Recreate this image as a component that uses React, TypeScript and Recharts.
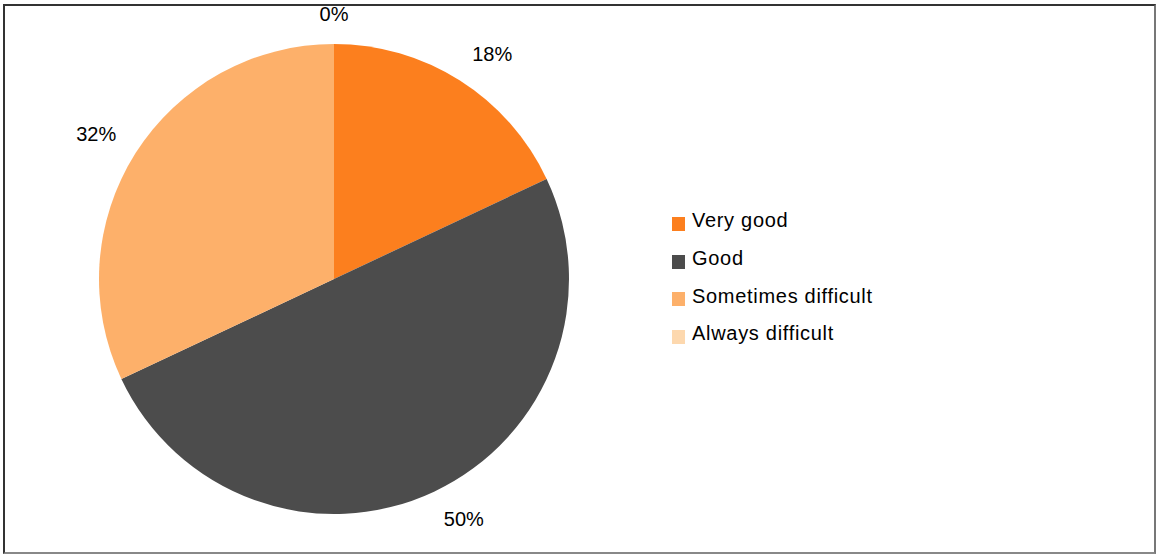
import { PieChart, Pie, Cell, Legend } from 'recharts'

const categories = ['Very good', 'Good', 'Sometimes difficult', 'Always difficult']
const shares = [18, 50, 32, 0]
const colors = ['#FC7F1E', '#4C4C4C', '#FDB06A', '#FDD8AE']

const data = categories.map((name, i) => ({ name, value: shares[i] }))

const RAD = Math.PI / 180
const FONT = "'Liberation Sans', Arial, sans-serif"

// label box hangs off a point just outside the rim, on the side facing away from the pie
const renderLabel = (props: any) => {
  const { cx, cy, midAngle, outerRadius, value } = props
  const cos = Math.cos(-midAngle * RAD)
  const sin = Math.sin(-midAngle * RAD)
  const d = outerRadius + 23
  const halfW = Math.abs(cos) < 0.05 ? 0 : 20 * Math.sign(cos)
  const halfH = Math.abs(sin) < 0.05 ? 0 : 7 * Math.sign(sin)
  const x = cx + d * cos + halfW
  const y = cy + d * sin + halfH
  return (
    <text
      x={x}
      y={y}
      textAnchor="middle"
      dominantBaseline="central"
      fill="#000"
      fontSize={20}
      fontFamily={FONT}
    >
      {`${value}%`}
    </text>
  )
}

const renderLegend = () => (
  <div style={{ fontFamily: FONT, fontSize: 20, letterSpacing: 0.7, color: '#000' }}>
    {categories.map((name, i) => (
      <div key={name} style={{ display: 'flex', alignItems: 'center', height: 37.7 }}>
        <span
          style={{
            width: 13,
            height: 14,
            background: colors[i],
            marginRight: 7,
            display: 'inline-block',
            position: 'relative',
            top: 3,
          }}
        />
        <span>{name}</span>
      </div>
    ))}
  </div>
)

const App = () => {
  return (
    <div style={{ position: 'absolute', left: 0, top: 0, width: 1156, height: 554, background: '#fff' }}>
      <div
        style={{
          position: 'absolute',
          left: 3,
          top: 4,
          width: 1149,
          height: 546,
          borderTop: '2px solid #333',
          borderLeft: '2px solid #333',
          borderRight: '2px solid #777',
          borderBottom: '2px solid #888',
        }}
      />
      <PieChart
        width={1156}
        height={554}
        margin={{ top: 0, right: 0, bottom: 0, left: 0 }}
        style={{ position: 'absolute', left: 0, top: 0 }}
      >
        <Pie
          data={data}
          dataKey="value"
          nameKey="name"
          cx={334}
          cy={279}
          outerRadius={235}
          startAngle={90}
          endAngle={-270}
          stroke="none"
          label={renderLabel}
          labelLine={false}
          isAnimationActive={false}
        >
          {data.map((d, i) => (
            <Cell key={d.name} fill={colors[i]} />
          ))}
        </Pie>
        <Legend
          content={renderLegend}
          wrapperStyle={{ position: 'absolute', left: 672, top: 202, width: 300 }}
        />
      </PieChart>
    </div>
  )
}

export default App
